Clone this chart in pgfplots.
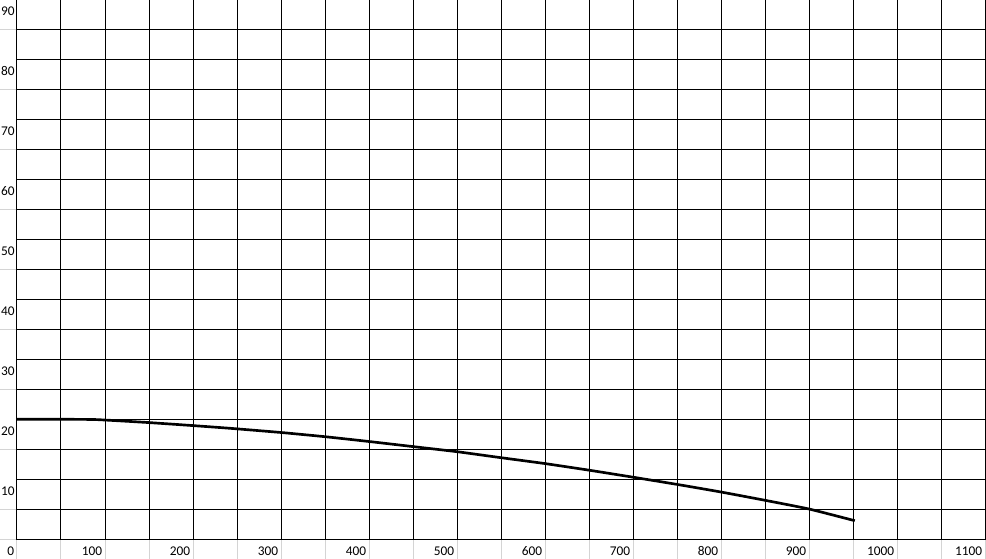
\documentclass[border=0pt]{standalone}
\usepackage{pgfplots}
\pgfplotsset{compat=1.18}
\usepackage{fontspec}
\setmainfont{Carlito}
\definecolor{cellgray}{RGB}{212,212,212}
\begin{document}
\begin{tikzpicture}
% spreadsheet gridlines outside the plot area
\foreach \i in {0,...,22} {\draw[cellgray, line width=0.75pt] (\i*33pt,0) -- (\i*33pt,-16pt);}
\foreach \k in {0,...,8} {\draw[cellgray, line width=0.75pt] (-14pt,{(2*\k+1)*22.5pt}) -- (0,{(2*\k+1)*22.5pt});}
\draw[cellgray, line width=0.75pt] (-14pt,0) -- (0,0);
\begin{axis}[
  at={(0,0)}, anchor=south west,
  scale only axis, width=726pt, height=405pt,
  xmin=0, xmax=1100, ymin=0, ymax=90,
  xtick={0,100,...,1100}, ytick={0,10,...,90},
  yticklabels={{},10,20,30,40,50,60,70,80,90},
  minor x tick num=1, minor y tick num=1,
  grid=both,
  major grid style={black, line width=0.75pt},
  minor grid style={black, line width=0.75pt},
  axis line style={black, line width=0.75pt},
  major tick length=0pt, minor tick length=0pt,
  /pgf/number format/assume math mode=true,
  /pgf/number format/1000 sep={},
  tick label style={font=\fontsize{10}{12}\selectfont, inner sep=0pt},
  xticklabel style={anchor=east, xshift=-1.9pt, yshift=-8.8pt},
  yticklabel style={anchor=east, xshift=-1.5pt, yshift=-9pt},
  clip=false,
]
\addplot[black, line width=2pt, smooth, tension=0.3] coordinates {
(0,20.0) (50,20.0) (90,19.95) (150,19.45) (200,18.95) (242,18.5)
(300,17.8) (350,17.1) (400,16.3) (450,15.45) (500,14.6) (550,13.6)
(600,12.62) (650,11.52) (700,10.35) (750,9.15) (800,7.88) (850,6.5)
(900,5.05) (952,3.1)
};
\end{axis}
\pgfresetboundingbox
\useasboundingbox (-12.75pt,-14.775pt) rectangle (726.75pt,404.475pt);
\end{tikzpicture}
\end{document}
